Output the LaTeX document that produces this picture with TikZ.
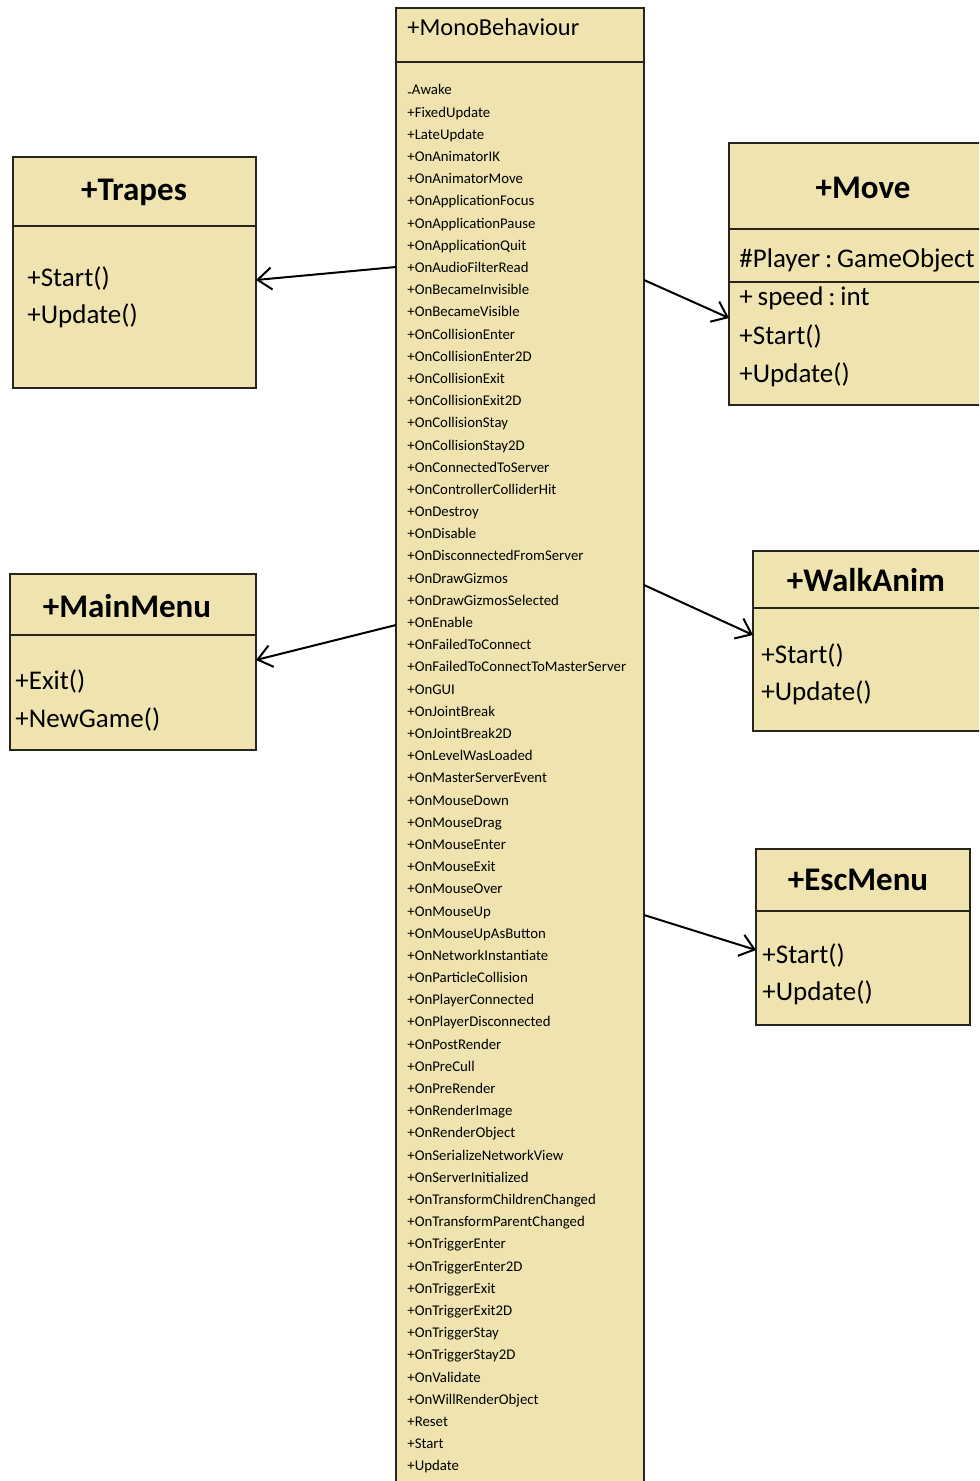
\documentclass[tikz,border=0pt]{standalone}
\usepackage{fontspec}
\setmainfont{Carlito}
\usetikzlibrary{arrows.meta,fit}
\definecolor{umlfill}{RGB}{239,228,176}
\definecolor{umlline}{RGB}{40,36,30}
\begin{document}
\begin{tikzpicture}[x=0.5pt,y=-0.5pt,
  box/.style={draw=umlline, line width=1pt, fill=umlfill, inner sep=0pt, outer sep=0pt},
  divider/.style={draw=umlline, line width=1.3pt},
  title/.style={font=\fontsize{16.5}{18}\selectfont\bfseries, inner sep=0pt},
  monotitle/.style={font=\fontsize{12.2}{14}\selectfont, inner sep=0pt, anchor=west},
  member/.style={font=\fontsize{13.5}{15}\selectfont, inner sep=0pt, anchor=west},
  item/.style={font=\fontsize{7.4}{9}\selectfont, inner sep=0pt, anchor=base west},
  arr/.style={line width=1pt, -{Straight Barb[length=7pt,width=11pt,line width=1pt]}}]
\useasboundingbox (0,0) rectangle (979,1481);
\clip (0,0) rectangle (979,1481);
\fill[white] (0,0) rectangle (979,1481);

% MonoBehaviour
\node[box, fit={(396,8) (644,1500)}] (mono) {};
\draw[divider] (mono.west |- 0,62) -- (mono.east |- 0,62);
\node[monotitle] (monot) at (407,27) {+MonoBehaviour};
\foreach \t [count=\i from 0] in {%
\raisebox{-.3ex}{-}Awake,+FixedUpdate,+LateUpdate,+OnAnimatorIK,+OnAnimatorMove,+OnApplicationFocus,+OnApplicationPause,+OnApplicationQuit,+OnAudioFilterRead,+OnBecameInvisible,+OnBecameVisible,+OnCollisionEnter,+OnCollisionEnter2D,+OnCollisionExit,+OnCollisionExit2D,+OnCollisionStay,+OnCollisionStay2D,+OnConnectedToServer,+OnControllerColliderHit,+OnDestroy,+OnDisable,+OnDisconnectedFromServer,+OnDrawGizmos,+OnDrawGizmosSelected,+OnEnable,+OnFailedToConnect,+OnFailedToConnectToMasterServer,+OnGUI,+OnJointBreak,+OnJointBreak2D,+OnLevelWasLoaded,+OnMasterServerEvent,+OnMouseDown,+OnMouseDrag,+OnMouseEnter,+OnMouseExit,+OnMouseOver,+OnMouseUp,+OnMouseUpAsButton,+OnNetworkInstantiate,+OnParticleCollision,+OnPlayerConnected,+OnPlayerDisconnected,+OnPostRender,+OnPreCull,+OnPreRender,+OnRenderImage,+OnRenderObject,+OnSerializeNetworkView,+OnServerInitialized,+OnTransformChildrenChanged,+OnTransformParentChanged,+OnTriggerEnter,+OnTriggerEnter2D,+OnTriggerExit,+OnTriggerExit2D,+OnTriggerStay,+OnTriggerStay2D,+OnValidate,+OnWillRenderObject,+Reset,+Start,+Update}
  \node[item] (m\i) at (407,{95+22.19*\i}) {\t};

% Trapes
\node[box, fit={(13,157) (256,388)}] (trapes) {};
\draw[divider] (trapes.west |- 0,226) -- (trapes.east |- 0,226);
\node[title] (trapest) at (134,192) {+Trapes};
\node[member] (trapes1) at (27,278) {+Start()};
\node[member] (trapes2) at (27,316) {+Update()};

% MainMenu
\node[box, fit={(10,574) (256,750)}] (mainmenu) {};
\draw[divider] (mainmenu.west |- 0,635) -- (mainmenu.east |- 0,635);
\node[title] (mainmenut) at (127,606) {+MainMenu};
\node[member] (mainmenu1) at (15,681) {+Exit()};
\node[member] (mainmenu2) at (15,719) {+NewGame()};

% Move
\node[box, fit={(729,143) (1000,405)}] (move) {};
\draw[divider] (move.west |- 0,229) -- (move.east |- 0,229);
\draw[divider] (move.west |- 0,282) -- (move.east |- 0,282);
\node[title] (movet) at (863,188) {+Move};
\node[member] (move1) at (739,260) {\#Player\hspace{0.18em}:\hspace{0.18em}GameObject};
\node[member] (move2) at (739,298) {+\hspace{0.18em}speed\hspace{0.18em}:\hspace{0.18em}int};
\node[member] (move3) at (739,336) {+Start()};
\node[member] (move4) at (739,375) {+Update()};

% WalkAnim
\node[box, fit={(753,551) (990,731)}] (walk) {};
\draw[divider] (walk.west |- 0,608) -- (walk.east |- 0,608);
\node[title] (walkt) at (866,580) {+WalkAnim};
\node[member] (walk1) at (761,655) {+Start()};
\node[member] (walk2) at (761,693) {+Update()};

% EscMenu
\node[box, fit={(756,849) (970,1025)}] (esc) {};
\draw[divider] (esc.west |- 0,911) -- (esc.east |- 0,911);
\node[title] (esct) at (858,880) {+EscMenu};
\node[member] (esc1) at (762,955) {+Start()};
\node[member] (esc2) at (762,993) {+Update()};

% connectors
\draw[arr] (mono.west |- 0,267) -- (trapes.east |- 0,280);
\draw[arr] (mono.east |- 0,280) -- (move.west |- 0,318);
\draw[arr] (mono.west |- 0,625) -- (mainmenu.east |- 0,660);
\draw[arr] (mono.east |- 0,585) -- (walk.west |- 0,635);
\draw[arr] (mono.east |- 0,915) -- (esc.west |- 0,950);
\end{tikzpicture}
\end{document}
